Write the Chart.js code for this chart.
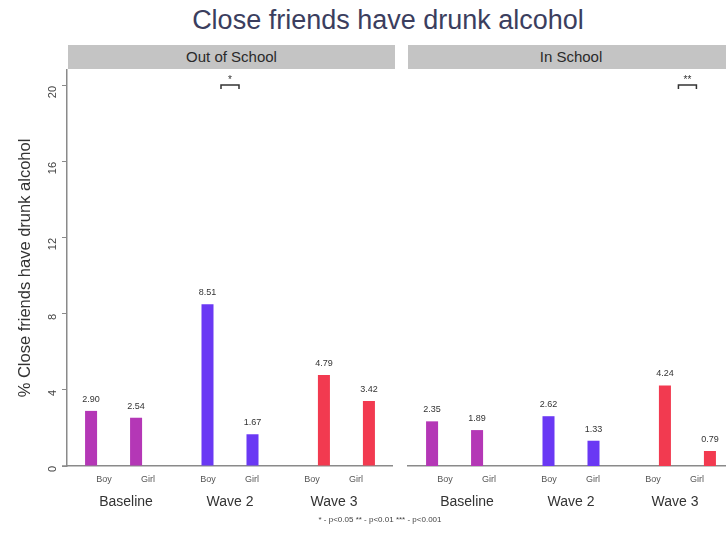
<!DOCTYPE html>
<html>
<head>
<meta charset="utf-8">
<script src="https://cdn.jsdelivr.net/npm/chart.js@4/dist/chart.umd.min.js"></script>
<style>
  html, body { margin: 0; padding: 0; background: #fff; overflow: hidden; }
  #wrap { position: relative; width: 726px; height: 537px; font-family: 'Liberation Sans', Arial, sans-serif; }
  #title { position: absolute; left: 0; width: 776px; top: 5px; text-align: center; font-size: 27px; color: #3b3e5e; }
  .strip { position: absolute; top: 45px; height: 24px; background: #c4c4c4; font-size: 15px; color: #2a2a2a; text-align: center; line-height: 24px; }
  #note { position: absolute; left: 0; width: 760px; top: 515px; text-align: center; font-size: 8px; color: #444; }
  canvas { position: absolute; top: 0; }
</style>
</head>
<body>
<div id="wrap">
  <div id="title">Close friends have drunk alcohol</div>
  <div class="strip" style="left:68px;width:327px;">Out of School</div>
  <div class="strip" style="left:408px;width:326px;">In School</div>
  <canvas id="leftChart" style="left:0;"></canvas>
  <canvas id="rightChart" style="left:400px;"></canvas>
  <div id="note">* - p&lt;0.05 ** - p&lt;0.01 *** - p&lt;0.001</div>
</div>
<script>
// waves along the x axis
const waves = ['Baseline', 'Wave 2', 'Wave 3'];
const sexes = ['Boy', 'Girl'];
const waveColors = ['#b437b6', '#6a38f4', '#f23a50'];

// % close friends have drunk alcohol
const outBoy = [2.90, 8.51, 4.79];
const outGirl = [2.54, 1.67, 3.42];
const inBoy = [2.35, 2.62, 4.24];
const inGirl = [1.89, 1.33, 0.79];

const yTicks = [0, 4, 8, 12, 16, 20];
// significance marks: wave index -> stars
const outStars = { 1: '*' };
const inStars = { 2: '**' };

const AXIS = '#8a8a8a';

const panelLabels = {
  id: 'panelLabels',
  afterDatasetsDraw(chart, args, opts) {
    const { ctx } = chart;
    const x = chart.scales.x;
    const y = chart.scales.y;
    ctx.save();
    ctx.textAlign = 'center';
    // value labels above each bar
    chart.data.datasets.forEach((ds, di) => {
      const meta = chart.getDatasetMeta(di);
      meta.data.forEach((bar, i) => {
        ctx.fillStyle = '#333';
        ctx.font = '9px "Liberation Sans", Arial';
        ctx.textBaseline = 'bottom';
        ctx.fillText(ds.data[i].y.toFixed(2), bar.x, bar.y - 7);
      });
    });
    // axis labels sit a bit closer to the middle than the bars (as in the original)
    waves.forEach((w, i) => {
      const gx = x.getPixelForValue(2 + (i - 1) * 0.893);
      ctx.fillStyle = '#555';
      ctx.font = '9px "Liberation Sans", Arial';
      ctx.textBaseline = 'middle';
      ctx.fillText(sexes[0], gx - 22, y.bottom + 14);
      ctx.fillText(sexes[1], gx + 22, y.bottom + 14);
      ctx.fillStyle = '#333';
      ctx.font = '14px "Liberation Sans", Arial';
      ctx.fillText(w, gx, y.bottom + 36);
    });
    // x axis line runs a little past the y axis, like the original
    if (chart.options.scales.y.display) {
      ctx.strokeStyle = AXIS;
      ctx.lineWidth = 1.5;
      ctx.beginPath();
      ctx.moveTo(x.left - 5, y.bottom);
      ctx.lineTo(x.left, y.bottom);
      ctx.stroke();
    }
    // significance brackets
    ctx.strokeStyle = '#333';
    ctx.fillStyle = '#333';
    ctx.lineWidth = 1.5;
    Object.entries(opts.stars || {}).forEach(([i, s]) => {
      const cx = x.getPixelForValue(Number(i) + 1);
      const yy = y.getPixelForValue(20);
      ctx.font = '10px "Liberation Sans", Arial';
      ctx.fillText(s, cx, yy - 6);
      ctx.beginPath();
      ctx.moveTo(cx - 9, yy + 3);
      ctx.lineTo(cx - 9, yy - 1);
      ctx.lineTo(cx + 9, yy - 1);
      ctx.lineTo(cx + 9, yy + 3);
      ctx.stroke();
    });
    ctx.restore();
  }
};

function makePanel(id, boy, girl, stars, showY, width) {
  const canvas = document.getElementById(id);
  canvas.width = width;
  canvas.height = 537;
  canvas.style.width = width + 'px';
  canvas.style.height = '537px';
  return new Chart(canvas, {
    type: 'bar',
    data: {
      datasets: [
        { label: 'Boy', data: waves.map((w, i) => ({ x: i + 1, y: boy[i] })), backgroundColor: waveColors },
        { label: 'Girl', data: waves.map((w, i) => ({ x: i + 1, y: girl[i] })), backgroundColor: waveColors }
      ]
    },
    options: {
      responsive: false,
      animation: false,
      layout: { padding: { top: 70, left: showY ? 0 : 8, right: 0, bottom: 0 } },
      categoryPercentage: 0.773,
      barPercentage: 0.267,
      plugins: {
        legend: { display: false },
        tooltip: { enabled: false },
        panelLabels: { stars }
      },
      scales: {
        x: {
          type: 'linear',
          offset: false,
          min: 0.6,
          max: 3.4,
          afterBuildTicks: (s) => { s.ticks = waves.map((w, i) => ({ value: i + 1 })); },
          afterFit: (s) => { s.height = 71; },
          ticks: { display: false },
          grid: { display: false, drawTicks: false },
          border: { display: true, color: AXIS, width: 1.5 }
        },
        y: {
          display: showY,
          min: 0,
          max: 20.84,
          afterBuildTicks: (s) => { s.ticks = yTicks.map(v => ({ value: v })); },
          afterFit: (s) => { s.width = showY ? 67 : 0; },
          ticks: {
            minRotation: 90,
            maxRotation: 90,
            color: '#444',
            padding: 9,
            font: { size: 11, family: '"Liberation Sans", Arial' }
          },
          grid: { display: true, drawOnChartArea: false, drawTicks: true, tickLength: 5, color: AXIS },
          border: { display: true, color: AXIS, width: 1.5 },
          title: {
            display: true,
            text: '% Close friends have drunk alcohol',
            color: '#333',
            padding: { top: 16, bottom: 0 },
            font: { size: 16.5, family: '"Liberation Sans", Arial' }
          }
        }
      }
    },
    plugins: [panelLabels]
  });
}

makePanel('leftChart', outBoy, outGirl, outStars, true, 393);
makePanel('rightChart', inBoy, inGirl, inStars, false, 334);
</script>
</body>
</html>
